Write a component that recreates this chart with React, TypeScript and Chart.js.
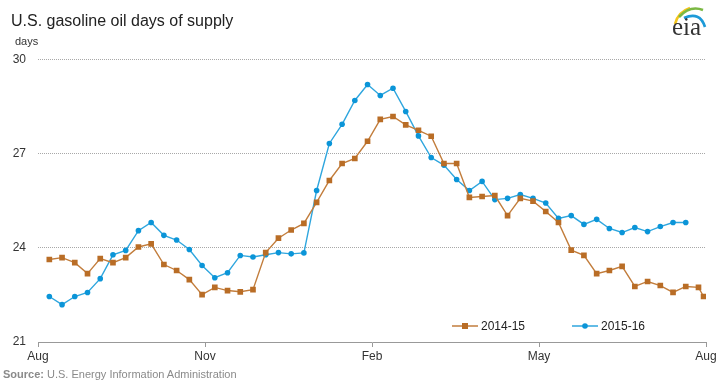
import { useEffect, useRef } from "react";
import { Chart, registerables } from "chart.js";

Chart.register(...registerables);

const monthLabels = ["Aug", "Nov", "Feb", "May", "Aug"];
const seriesNames = ["2014-15", "2015-16"];
const yTicks = [21, 24, 27, 30];

// weekly observations (index of the week since early August)
const weeks1415 = [
  0, 1, 2, 3, 4, 5, 6, 7, 8, 9, 10, 11, 12, 13, 14, 15, 16, 17, 18, 19, 20, 21, 22, 23, 24, 25,
  26, 27, 28, 29, 30, 31, 32, 33, 34, 35, 36, 37, 38, 39, 40, 41, 42, 43, 44, 45, 46, 47, 48, 49,
  50, 51, 51.4,
];
const values1415 = [
  23.63, 23.69, 23.53, 23.18, 23.66, 23.53, 23.69, 24.03, 24.13, 23.47,
  23.28, 22.99, 22.51, 22.74, 22.64, 22.6, 22.67, 23.85, 24.31, 24.57,
  24.78, 25.45, 26.15, 26.69, 26.85, 27.4, 28.1, 28.19, 27.92, 27.75,
  27.56, 26.69, 26.69, 25.61, 25.64, 25.67, 25.03, 25.58, 25.49, 25.16,
  24.81, 23.93, 23.76, 23.18, 23.28, 23.41, 22.77, 22.93, 22.8, 22.58,
  22.77, 22.74, 22.45,
];
const weeks1516 = [
  0, 1, 2, 3, 4, 5, 6, 7, 8, 9, 10, 11, 12, 13, 14, 15, 16, 17, 18, 19, 20, 21, 22, 23, 24, 25,
  26, 27, 28, 29, 30, 31, 32, 33, 34, 35, 36, 37, 38, 39, 40, 41, 42, 43, 44, 45, 46, 47, 48, 49,
  50,
];
const values1516 = [
  22.45, 22.19, 22.45, 22.58, 23.02, 23.78, 23.92, 24.55, 24.81, 24.4,
  24.25, 23.95, 23.44, 23.05, 23.21, 23.76, 23.71, 23.78, 23.85, 23.81,
  23.84, 25.83, 27.33, 27.94, 28.7, 29.21, 28.86, 29.09, 28.35, 27.57,
  26.88, 26.64, 26.18, 25.83, 26.12, 25.54, 25.58, 25.7, 25.58, 25.43,
  24.94, 25.03, 24.75, 24.91, 24.62, 24.49, 24.65, 24.52, 24.68, 24.81,
  24.81,
];

const X_MIN = -0.89;
const X_MAX = 51.59;
const FONT = "'Liberation Sans', Arial, sans-serif";

const legendPlugin = {
  id: "lineLegend",
  afterDraw(chart: any) {
    const { ctx, chartArea } = chart;
    const y = chartArea.bottom - 16;
    const starts = [chartArea.right - 254, chartArea.right - 134];
    chart.data.datasets.forEach((ds: any, i: number) => {
      const x0 = starts[i];
      ctx.save();
      ctx.strokeStyle = ds.borderColor;
      ctx.lineWidth = 1.5;
      ctx.beginPath();
      ctx.moveTo(x0, y);
      ctx.lineTo(x0 + 26, y);
      ctx.stroke();
      ctx.fillStyle = ds.pointBackgroundColor;
      if (ds.pointStyle === "rect") {
        ctx.fillRect(x0 + 13 - 3, y - 3, 6, 6);
      } else {
        ctx.beginPath();
        ctx.arc(x0 + 13, y, 2.8, 0, Math.PI * 2);
        ctx.fill();
      }
      ctx.fillStyle = "#222";
      ctx.font = `12px ${FONT}`;
      ctx.textBaseline = "middle";
      ctx.textAlign = "left";
      ctx.fillText(ds.label, x0 + 29, y + 0.5);
      ctx.restore();
    });
  },
};

export default function App() {
  const ref = useRef<HTMLCanvasElement | null>(null);

  useEffect(() => {
    if (!ref.current) return;
    const chart = new Chart(ref.current, {
      type: "line",
      data: {
        datasets: [
          {
            label: seriesNames[0],
            data: weeks1415.map((w, i) => ({ x: w, y: values1415[i] })),
            borderColor: "#c27d3c",
            backgroundColor: "#b96d26",
            pointBackgroundColor: "#b96d26",
            pointBorderWidth: 0,
            pointStyle: "rect",
            pointRadius: 4,
            borderWidth: 1.4,
            tension: 0,
          },
          {
            label: seriesNames[1],
            data: weeks1516.map((w, i) => ({ x: w, y: values1516[i] })),
            borderColor: "#2fa6de",
            backgroundColor: "#0b95d8",
            pointBackgroundColor: "#0b95d8",
            pointBorderWidth: 0,
            pointStyle: "circle",
            pointRadius: 2.8,
            borderWidth: 1.4,
            tension: 0,
          },
        ],
      },
      options: {
        responsive: false,
        animation: false,
        layout: { padding: { top: 59.7, right: 13, bottom: 12, left: 0 } },
        plugins: {
          legend: { display: false },
          tooltip: { enabled: false },
          title: { display: false },
        },
        scales: {
          x: {
            type: "linear",
            min: X_MIN,
            max: X_MAX,
            afterBuildTicks: (axis: any) => {
              const n = monthLabels.length;
              axis.ticks = monthLabels.map((_, k) => ({
                value: X_MIN + ((X_MAX - X_MIN) * k) / (n - 1),
              }));
            },
            afterFit: (axis: any) => {
              axis.height = 30;
            },
            ticks: {
              autoSkip: false,
              maxRotation: 0,
              padding: 2,
              color: "#333",
              font: { family: FONT, size: 12 },
              callback: (_v: any, index: number) => monthLabels[index],
            },
            grid: {
              drawOnChartArea: false,
              drawTicks: true,
              tickLength: 5,
              color: "#999",
            },
            border: { display: true, color: "#999", width: 1 },
          },
          y: {
            type: "linear",
            min: yTicks[0],
            max: yTicks[yTicks.length - 1],
            afterBuildTicks: (axis: any) => {
              axis.ticks = yTicks.map((v) => ({ value: v }));
            },
            afterFit: (axis: any) => {
              axis.width = 38;
            },
            ticks: {
              padding: 12,
              color: "#333",
              font: { family: FONT, size: 12 },
            },
            grid: {
              drawTicks: false,
              color: (c: any) => (c.tick && c.tick.value === yTicks[0] ? "rgba(0,0,0,0)" : "#a8a8a8"),
              lineWidth: 1,
            },
            border: { display: false, dash: [1, 1] },
          },
        },
      },
      plugins: [legendPlugin],
    });
    return () => chart.destroy();
  }, []);

  return (
    <div
      style={{
        position: "absolute",
        left: 0,
        top: 0,
        width: 719,
        height: 384,
        background: "#fff",
        fontFamily: FONT,
        overflow: "hidden",
      }}
    >
      <canvas ref={ref} width={719} height={384} style={{ position: "absolute", left: 0, top: 0 }} />
      <div
        style={{
          position: "absolute",
          left: 11,
          top: 11,
          fontSize: 16,
          color: "#222",
          whiteSpace: "nowrap",
          lineHeight: "20px",
        }}
      >
        U.S. gasoline oil days of supply
      </div>
      <div
        style={{
          position: "absolute",
          left: 15,
          top: 34,
          fontSize: 11,
          color: "#333",
          lineHeight: "14px",
        }}
      >
        days
      </div>
      <div
        style={{
          position: "absolute",
          left: 3,
          top: 367,
          fontSize: 11,
          color: "#8a8a8a",
          whiteSpace: "nowrap",
          lineHeight: "14px",
        }}
      >
        <b>Source:</b> U.S. Energy Information Administration
      </div>
      <svg
        width={46}
        height={40}
        style={{ position: "absolute", left: 666, top: 3 }}
        viewBox="0 0 46 40"
      >
        <path d="M9 21 Q12 9 24 5" stroke="#f4c51c" strokeWidth={2.6} fill="none" />
        <path d="M13 14 Q24 2 37 7" stroke="#7bb843" strokeWidth={2.6} fill="none" />
        <path d="M18 15 Q34 8 39 24" stroke="#1d9ad8" strokeWidth={2.6} fill="none" />
        <text
          x={6}
          y={32}
          fontFamily="'Liberation Serif', 'Times New Roman', serif"
          fontSize={25}
          fill="#333"
        >
          eia
        </text>
      </svg>
    </div>
  );
}
